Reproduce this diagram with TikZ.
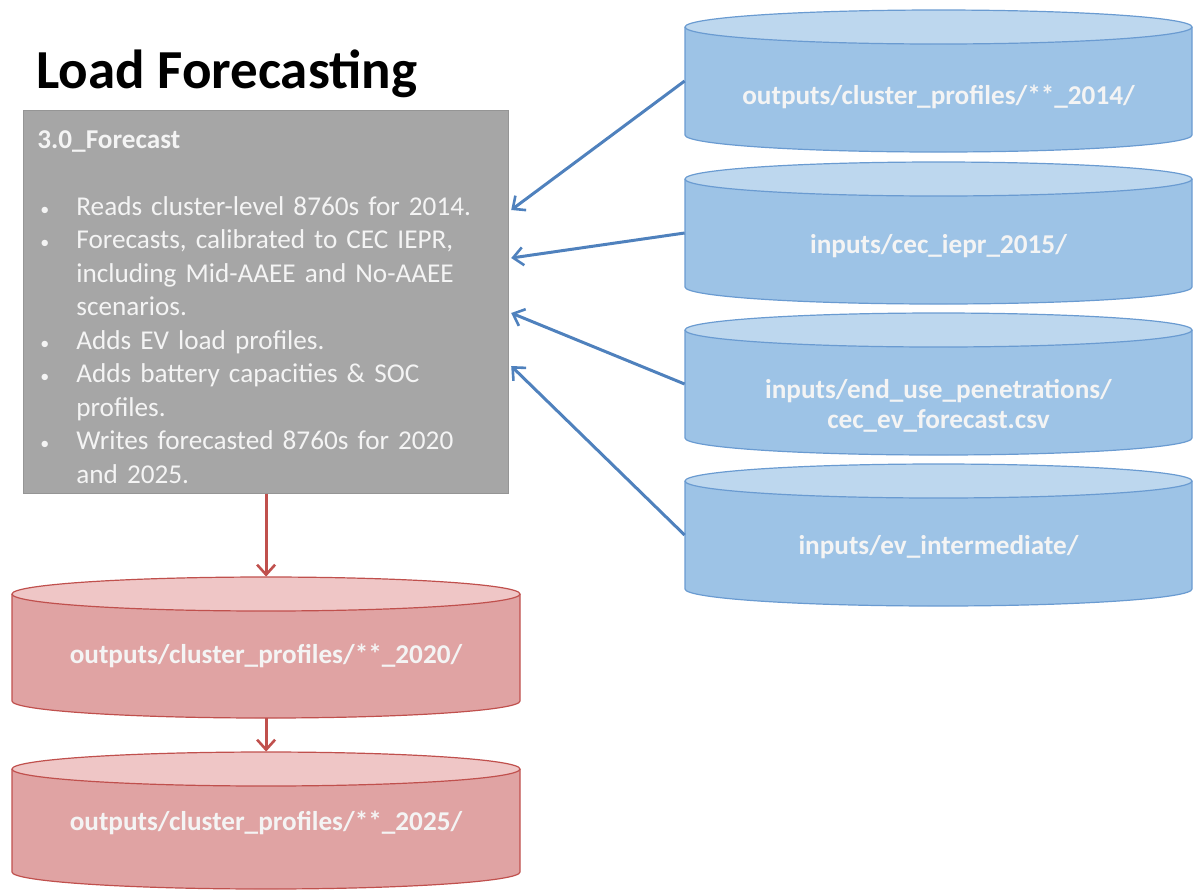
\documentclass[tikz,border=0pt]{standalone}
\usepackage{fontspec}
\setmainfont{Carlito}
\usetikzlibrary{arrows.meta}

\definecolor{bluesidec}{HTML}{9DC3E6}
\definecolor{bluetopc}{HTML}{BDD7EE}
\definecolor{blueedgec}{HTML}{6A9BD1}
\definecolor{bluearrowc}{HTML}{4F81BD}
\definecolor{redsidec}{HTML}{E0A3A3}
\definecolor{redtopc}{HTML}{EFC6C6}
\definecolor{rededgec}{HTML}{C0504D}
\definecolor{redarrowc}{HTML}{C0504D}
\definecolor{procfill}{HTML}{A6A6A6}
\definecolor{procedge}{HTML}{959595}
\definecolor{softwhite}{HTML}{F4F4F4}

% database drum: #1 name, #2 left x, #3 right x, #4 top y, #5 bottom y (pixels, y downwards),
% #6 colour prefix (blue/red), #7 label, #8 how far the label sits below the middle
\newcommand\drum[8]{%
  \pgfmathsetmacro\drumcx{(#2+#3)/2}%
  \pgfmathsetmacro\drumrx{(#3-#2)/2}%
  \pgfmathsetmacro\drumcy{-(#4+#5)/2}%
  \pgfmathsetmacro\drumw{(#3-#2)/2}%
  \pgfmathsetmacro\drumh{(#5-#4)/2}%
  \fill[#6sidec] (#2,-#4-17) -- (#2,-#5+17)
    arc[start angle=180,end angle=360,x radius=\drumrx,y radius=17]
    -- (#3,-#4-17) -- cycle;
  \draw[#6edgec,line width=0.6pt] (#2,-#4-17) -- (#2,-#5+17)
    arc[start angle=180,end angle=360,x radius=\drumrx,y radius=17]
    -- (#3,-#4-17);
  \filldraw[fill=#6topc,draw=#6edgec,line width=0.6pt]
    (\drumcx,-#4-17) ellipse[x radius=\drumrx,y radius=17];
  \node[drumtext,minimum width=\drumw pt,minimum height=\drumh pt] (#1) at (\drumcx,\drumcy)
    {\raisebox{-#8}[\height][\depth]{\begin{tabular}{@{}c@{}}#7\end{tabular}}};
}

\newcommand\bul{\makebox[19.5pt][l]{\hspace{1.5pt}{\fontsize{9}{9}\selectfont\textbullet}}}
\newcommand\cont{\hspace*{19.5pt}}

\begin{document}
\begin{tikzpicture}[x=0.5pt,y=0.5pt,
  drumtext/.style={inner sep=0pt,text=softwhite,
    font=\fontsize{13.6}{15}\selectfont\bfseries},
  procbox/.style={fill=procfill,draw=procedge,line width=0.6pt,inner sep=0pt},
  proctext/.style={inner sep=0pt,text=softwhite,align=left,text width=236pt,
    font=\fontsize{13.6}{16.75}\selectfont},
  bluearrow/.style={draw=bluearrowc,line width=1.5pt,
    -{Straight Barb[length=5pt,width=9pt,line width=1.3pt]}},
  redarrow/.style={draw=redarrowc,line width=1.5pt,
    -{Straight Barb[length=5pt,width=9pt,line width=1.3pt]}}]
\useasboundingbox (0,0) rectangle (1193,-890);

% title
\node[anchor=base west,inner sep=0pt,font=\fontsize{27.5}{33}\selectfont\bfseries]
  (title) at (36,-88) {Load Forecasting};

% forecasting step
\node[procbox,anchor=north west,minimum width=242.5pt,minimum height=191.5pt]
  (g) at (23,-110) {};
\node[proctext,anchor=north west] (gt) at (37,-130) {%
  \textbf{3.0\_Forecast}\\[16.75pt]
  \bul Reads cluster-level 8760s for 2014.\\
  \bul Forecasts, calibrated to CEC IEPR,\\
  \cont including Mid-AAEE and No-AAEE\\
  \cont scenarios.\\
  \bul Adds EV load profiles.\\
  \bul Adds battery capacities \& SOC\\
  \cont profiles.\\
  \bul Writes forecasted 8760s for 2020\\
  \cont and 2025.};

% input stores
\drum{c1}{685}{1192}{10}{152}{blue}{outputs/cluster\_profiles/**\_2014/}{8.5pt}
\drum{c2}{685}{1192}{162}{304}{blue}{inputs/cec\_iepr\_2015/}{7pt}
\drum{c3}{685}{1192}{313}{455}{blue}{inputs/end\_use\_penetrations/\\cec\_ev\_forecast.csv}{11.5pt}
\drum{c4}{685}{1192}{464}{606}{blue}{inputs/ev\_intermediate/}{6.5pt}

% output stores
\drum{r1}{12}{520}{577}{718}{red}{outputs/cluster\_profiles/**\_2020/}{5pt}
\drum{r2}{12}{520}{752}{889}{red}{outputs/cluster\_profiles/**\_2025/}{2pt}

% where the inputs enter the step
\coordinate (e1) at ([xshift=1pt,yshift=-50pt]g.north east);
\coordinate (e2) at ([xshift=1pt,yshift=-74pt]g.north east);
\coordinate (e3) at ([xshift=1pt,yshift=-101.5pt]g.north east);
\coordinate (e4) at ([xshift=1pt,yshift=-128pt]g.north east);

\draw[bluearrow] (c1.west) -- (e1);
\draw[bluearrow] (c2.west) -- (e2);
\draw[bluearrow] (c3.west) -- (e3);
\draw[bluearrow] (c4.west) -- (e4);

\draw[redarrow] (g.south) -- (g.south |- r1.north);
\draw[redarrow] (r1.south -| g.south) -- (g.south |- r2.north);
\end{tikzpicture}
\end{document}
